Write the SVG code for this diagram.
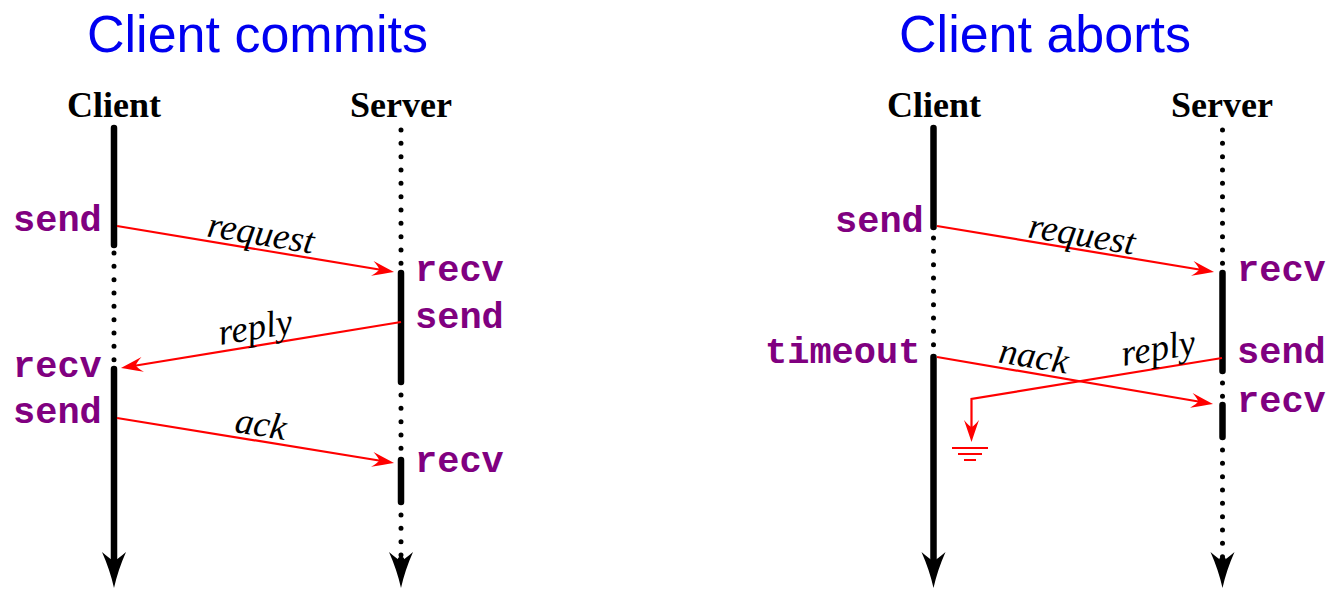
<svg xmlns="http://www.w3.org/2000/svg" width="1330" height="589" viewBox="0 0 1330 589">
<style>
.title{font-family:"Liberation Sans",Arial,sans-serif;font-size:52px;fill:#0000f0;text-anchor:middle}
.actor{font-family:"Liberation Serif","Times New Roman",serif;font-size:36px;font-weight:bold;fill:#000;text-anchor:middle}
.op{font-family:"Liberation Mono","Courier New",monospace;font-size:37px;font-weight:bold;fill:#800080}
.msg{font-family:"Liberation Serif","Times New Roman",serif;font-size:37px;font-style:italic;fill:#000;text-anchor:middle}
.solid{stroke:#000;stroke-width:6.5;stroke-linecap:round;fill:none}
.dots{stroke:#000;stroke-width:5;stroke-linecap:round;stroke-dasharray:0 13.33;fill:none}
.red{stroke:#ff0000;stroke-width:2.2;fill:none}
.big{fill:#000}
</style>
<defs>
<marker id="rh" markerUnits="userSpaceOnUse" orient="auto" refX="-6" refY="0" overflow="visible">
<path d="M0,0 Q-9,-3 -22,-7.5 Q-16,-2.5 -15,0 Q-16,2.5 -22,7.5 Q-9,3 0,0 Z" fill="#ff0000"/>
</marker>
<path id="bigHead" d="M0,0 Q-4,-18 -12,-36 Q-4,-29 0,-27 Q4,-29 12,-36 Q4,-18 0,0 Z"/>
</defs>

<g id="title-commits"><text class="title" x="257.5" y="52">Client commits</text></g>
<g id="title-aborts"><text class="title" x="1045" y="52">Client aborts</text></g>

<!-- Left diagram -->
<g id="L-client">
<text class="actor" x="114" y="117">Client</text>
<line class="solid" x1="114" y1="128" x2="114" y2="245"/>
<line class="dots" x1="114" y1="253" x2="114" y2="362"/>
<line class="solid" x1="114" y1="369" x2="114" y2="570"/>
<use href="#bigHead" x="114" y="588" class="big"/>
<text class="op" x="13" y="231">send</text>
<text class="op" x="13" y="377">recv</text>
<text class="op" x="13" y="423">send</text>
</g>
<g id="L-server">
<text class="actor" x="401" y="117">Server</text>
<line class="dots" x1="401" y1="130" x2="401" y2="265"/>
<line class="solid" x1="401" y1="273" x2="401" y2="382"/>
<line class="dots" x1="401" y1="395" x2="401" y2="450"/>
<line class="solid" x1="401" y1="460" x2="401" y2="502"/>
<line class="dots" x1="401" y1="515" x2="401" y2="556"/>
<line class="solid" x1="401" y1="560" x2="401" y2="570"/>
<use href="#bigHead" x="401" y="588" class="big"/>
<text class="op" x="415" y="281">recv</text>
<text class="op" x="415" y="328">send</text>
<text class="op" x="415" y="472">recv</text>
</g>

<!-- Right diagram -->
<g id="R-client">
<text class="actor" x="934" y="117">Client</text>
<line class="solid" x1="933.5" y1="128" x2="933.5" y2="227"/>
<line class="dots" x1="933.5" y1="238" x2="933.5" y2="347"/>
<line class="solid" x1="933.5" y1="357" x2="933.5" y2="570"/>
<use href="#bigHead" x="933.5" y="588" class="big"/>
<text class="op" x="835" y="232">send</text>
<text class="op" x="765" y="363">timeout</text>
</g>
<g id="R-server">
<text class="actor" x="1222" y="117">Server</text>
<line class="dots" x1="1222.5" y1="130" x2="1222.5" y2="265"/>
<line class="solid" x1="1222.5" y1="273" x2="1222.5" y2="371"/>
<line class="dots" x1="1222.5" y1="383" x2="1222.5" y2="397"/>
<line class="solid" x1="1222.5" y1="405" x2="1222.5" y2="437"/>
<line class="dots" x1="1222.5" y1="450" x2="1222.5" y2="558"/>
<line class="solid" x1="1222.5" y1="560" x2="1222.5" y2="570"/>
<use href="#bigHead" x="1222.5" y="588" class="big"/>
<text class="op" x="1237" y="281">recv</text>
<text class="op" x="1237" y="363">send</text>
<text class="op" x="1237" y="412">recv</text>
</g>

<g id="connectors">
<line class="red" x1="117" y1="226" x2="388.1" y2="271" marker-end="url(#rh)"/>
<line class="red" x1="401" y1="322" x2="126.9" y2="367" marker-end="url(#rh)"/>
<line class="red" x1="117" y1="418" x2="388.1" y2="462" marker-end="url(#rh)"/>
<line class="red" x1="937" y1="226" x2="1208.1" y2="271" marker-end="url(#rh)"/>
<line class="red" x1="937" y1="357" x2="1207.1" y2="403" marker-end="url(#rh)"/>
<polyline class="red" points="1222,358 971.5,399 971.5,436" marker-end="url(#rh)"/>
<g id="ground" stroke="#ff0000" stroke-width="2">
<line x1="952" y1="448" x2="988" y2="448"/>
<line x1="958" y1="454" x2="982" y2="454"/>
<line x1="964" y1="460" x2="976" y2="460"/>
</g>
<text class="msg" transform="translate(259 245) rotate(9.36)">request</text>
<text class="msg" transform="translate(257 339) rotate(-9.2)">reply</text>
<text class="msg" transform="translate(259 436) rotate(9.1)">ack</text>
<text class="msg" transform="translate(1080 246) rotate(9.36)">request</text>
<text class="msg" transform="translate(1032 368) rotate(9.4)">nack</text>
<text class="msg" transform="translate(1160 360) rotate(-9.3)">reply</text>
</g>
</svg>
